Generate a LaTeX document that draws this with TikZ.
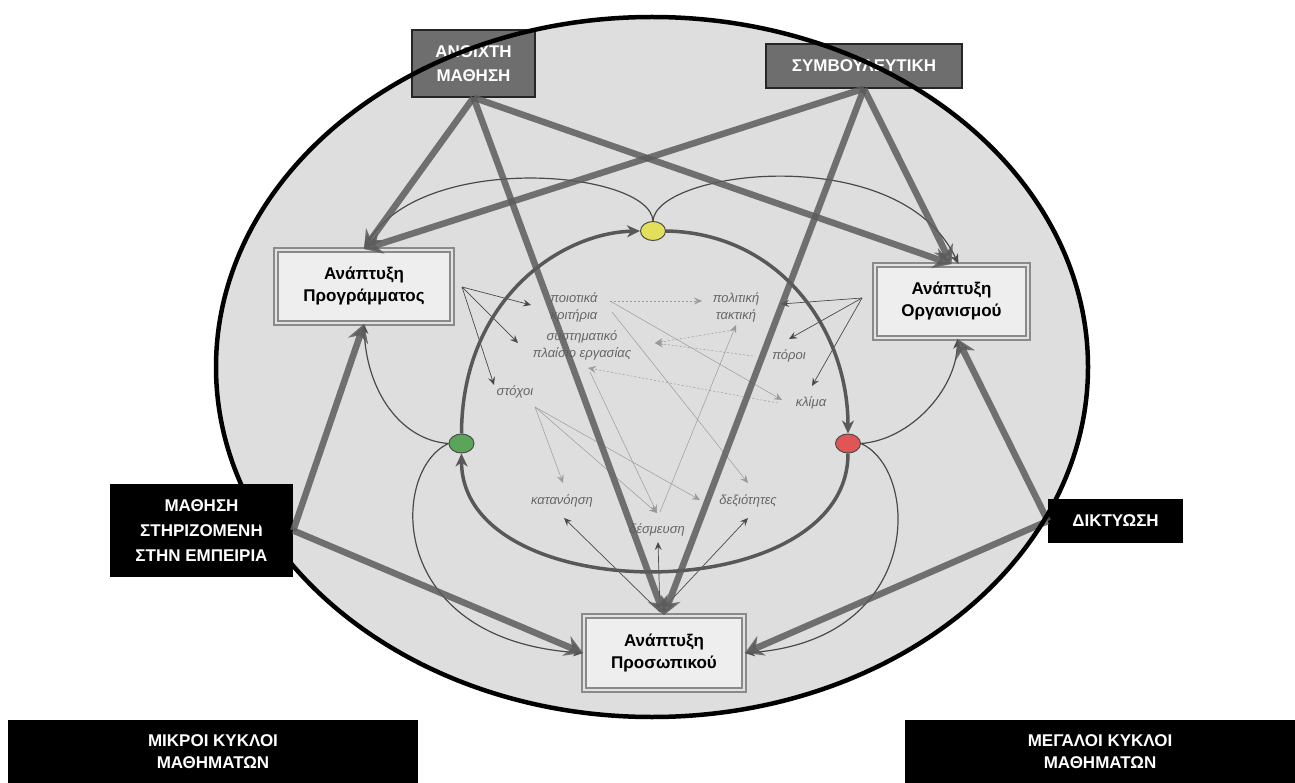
\documentclass[tikz,border=0pt]{standalone}
\usepackage{fontspec}
\setmainfont{Liberation Sans}
\usetikzlibrary{arrows.meta,shapes.geometric}
\definecolor{ellfill}{HTML}{DEDEDE}
\definecolor{boxgray}{HTML}{6E6E6E}
\definecolor{thickc}{HTML}{5C5C5C}
\definecolor{cycc}{HTML}{585858}
\definecolor{thinc}{HTML}{4A4A4A}
\definecolor{lightc}{HTML}{9A9A9A}
\definecolor{labc}{HTML}{666666}
\definecolor{dblc}{HTML}{8A8A8A}
\definecolor{dblgap}{HTML}{E2E2E2}
\definecolor{dblfill}{HTML}{EEEEEE}
\definecolor{ovyellow}{HTML}{E3DF5A}
\definecolor{ovgreen}{HTML}{5AA55A}
\definecolor{ovred}{HTML}{E05555}
\begin{document}
\begin{tikzpicture}[x=1pt,y=-1pt,
  gbox/.style={rectangle, draw=black!85, line width=1.2pt, fill=boxgray, text=white,
    font=\bfseries\fontsize{17}{24}\selectfont, align=center, inner sep=0pt},
  bbox/.style={rectangle, fill=black, text=white,
    font=\bfseries\fontsize{17}{25}\selectfont, align=center, inner sep=0pt},
  dbox/.style={rectangle, draw=dblc, line width=1.8pt, double=dblgap, double distance=2.5pt,
    fill=dblfill, font=\bfseries\fontsize{17}{22}\selectfont, align=center, inner sep=0pt},
  oval/.style={ellipse, draw=black!70, line width=1pt, minimum width=25pt, minimum height=19pt, inner sep=0pt},
  lab/.style={font=\itshape\fontsize{13}{17}\selectfont, text=labc, align=center, inner sep=1pt},
  thk/.style={draw=thickc, line width=6.5pt, opacity=0.85, -{Stealth[length=18pt,width=21pt,inset=6pt]}},
  cyc/.style={draw=cycc, line width=3.5pt, -{Stealth[length=13pt,width=12pt,inset=4pt]}},
  thincurve/.style={draw=thinc, line width=1.2pt, -{Stealth[length=10pt,width=8pt,inset=3pt]}},
  fan/.style={draw=thinc, line width=0.7pt, -{Stealth[length=8pt,width=7pt,inset=3pt]}},
  lgt/.style={draw=lightc, line width=0.5pt, -{Stealth[length=8pt,width=7pt,inset=3pt]}},
  lgtd/.style={lgt, dash pattern=on 2pt off 2pt}
]
\useasboundingbox (0,0) rectangle (1295,783);
\fill[ellfill] (652,367) ellipse [x radius=436pt, y radius=350pt];

% boxes
\node[gbox, minimum width=123pt, minimum height=67pt] (om) at (473.5,63.5) {ΑΝΟΙΧΤΗ\\ΜΑΘΗΣΗ};
\node[gbox, minimum width=196pt, minimum height=44pt] (sy) at (864,66) {ΣΥΜΒΟΥΛΕΥΤΙΚΗ};
\node[dbox, minimum width=176pt, minimum height=73pt] (pg) at (364,286.5) {Ανάπτυξη\\Προγράμματος};
\node[dbox, minimum width=153pt, minimum height=73pt] (og) at (951.5,301.5) {Ανάπτυξη\\Οργανισμού};
\node[dbox, minimum width=160pt, minimum height=74pt] (ps) at (664,653) {Ανάπτυξη\\Προσωπικού};
\node[bbox, minimum width=183pt, minimum height=93pt] (ms) at (201.5,530.5) {ΜΑΘΗΣΗ\\ΣΤΗΡΙΖΟΜΕΝΗ\\ΣΤΗΝ ΕΜΠΕΙΡΙΑ};
\node[bbox, minimum width=135pt, minimum height=44pt] (dk) at (1115.5,521) {ΔΙΚΤΥΩΣΗ};
\node[bbox, minimum width=410pt, minimum height=63pt, font=\bfseries\fontsize{17}{22}\selectfont] (mk) at (213,751.5) {ΜΙΚΡΟΙ ΚΥΚΛΟΙ\\ΜΑΘΗΜΑΤΩΝ};
\node[bbox, minimum width=390pt, minimum height=63pt, font=\bfseries\fontsize{17}{22}\selectfont] (mg) at (1100,751.5) {ΜΕΓΑΛΟΙ ΚΥΚΛΟΙ\\ΜΑΘΗΜΑΤΩΝ};

% ovals
\node[oval, fill=ovyellow] (yo) at (653,231) {};
\node[oval, fill=ovgreen] (gr) at (461.5,443.5) {};
\node[oval, fill=ovred] (ro) at (848,443.5) {};

% inner labels
\node[lab] (poi) at (574,307) {ποιοτικά\\κριτήρια};
\node[lab] (pol) at (736,307) {πολιτική\\τακτική};
\node[lab] (sys) at (582,345) {συστηματικό\\πλαίσιο εργασίας};
\node[lab] (por) at (789,356) {πόροι};
\node[lab] (kli) at (811,403) {κλίμα};
\node[lab] (sto) at (515,392) {στόχοι};
\node[lab] (kat) at (562,501) {κατανόηση};
\node[lab] (des) at (657,530) {δέσμευση};
\node[lab] (dex) at (748,501) {δεξιότητες};

% coordinates for fans and light links
\coordinate (pgf) at (462,287);
\coordinate (ogf) at (862,298);
\coordinate (psf) at (660,612);
\coordinate (tpoi) at (531,305);
\coordinate (tsys) at (518,343);
\coordinate (tsto) at (494,385);
\coordinate (tpol) at (781,304);
\coordinate (tpor) at (789,339);
\coordinate (tkli) at (812,386);
\coordinate (tkat) at (564,518);
\coordinate (tdes) at (658,542);
\coordinate (tdex) at (748,518);
\coordinate (spoi) at (610,301);
\coordinate (epol) at (702,301);
\coordinate (ekli) at (782,400);
\coordinate (spor) at (753,356);
\coordinate (esys) at (655,343);
\coordinate (skli) at (778,403);
\coordinate (esys2) at (588,368);
\coordinate (stak) at (733,330);
\coordinate (sdes) at (660,512);
\coordinate (etak) at (736,325);
\coordinate (ssto) at (535,407);
\coordinate (ekat) at (563,483);
\coordinate (edes) at (657,513);
\coordinate (edex) at (700,500);
\coordinate (spoi2) at (612,312);
\coordinate (edex2) at (748,483);
\coordinate (ssys) at (590,372);

% light links among labels
\draw[lgtd] (spoi) -- (epol);
\draw[lgt] (spoi) -- (ekli);
\draw[lgtd] (spor) -- (esys);
\draw[lgtd] (stak) -- (esys);
\draw[lgtd] (skli) -- (esys2);
\draw[lgt] (sdes) -- (etak);
\draw[lgt] (ssto) -- (ekat);
\draw[lgt] (ssto) -- (edes);
\draw[lgt] (ssto) -- (edex);
\draw[lgt] (spoi2) -- (edex2);
\draw[lgt] (ssys) -- (edes);

% fans from the development boxes
\draw[fan] (pgf) -- (tpoi);
\draw[fan] (pgf) -- (tsys);
\draw[fan] (pgf) -- (tsto);
\draw[fan] (ogf) -- (tpol);
\draw[fan] (ogf) -- (tpor);
\draw[fan] (ogf) -- (tkli);
\draw[fan] (psf) -- (tkat);
\draw[fan] (psf) -- (tdes);
\draw[fan] (psf) -- (tdex);

% thin curves
\draw[thincurve] (yo.north) .. controls (650,170) and (420,150) .. (pg.north);
\draw[thincurve] (yo.north) .. controls (656,170) and (900,140) .. ([xshift=7pt]og.north);
\draw[thincurve] (gr.west) .. controls (400,440) and (366,390) .. (pg.south);
\draw[thincurve] (ro.east) .. controls (910,440) and (956,390) .. ([xshift=6pt]og.south);
\draw[thincurve] (gr.west) .. controls (390,470) and (385,640) .. (ps.west);
\draw[thincurve] (ro.east) .. controls (920,470) and (925,640) .. (ps.east);

% inner cycle
\draw[cyc] (gr.north) .. controls (462,300) and (560,233) .. (yo.west);
\draw[cyc] (yo.east) .. controls (780,233) and (848,330) .. (ro.north);
\draw[cyc] (ro.south) .. controls (848,610) and (462,610) .. (gr.south);

% thick connectors
\draw[thk] (om.south) -- (pg.north);
\draw[thk] (om.south) -- (ps.north);
\draw[thk] (om.south) -- (og.north);
\draw[thk] (sy.south) -- (pg.north);
\draw[thk] (sy.south) -- (ps.north);
\draw[thk] (sy.south) -- (og.north);
\draw[thk] (ms.east) -- (pg.south);
\draw[thk] (ms.east) -- (ps.west);
\draw[thk] (dk.west) -- (ps.east);
\draw[thk] (dk.west) -- ([xshift=6pt]og.south);

% ellipse outline on top
\draw[black, line width=4.5pt] (652,367) ellipse [x radius=436pt, y radius=350pt];
\end{tikzpicture}
\end{document}
